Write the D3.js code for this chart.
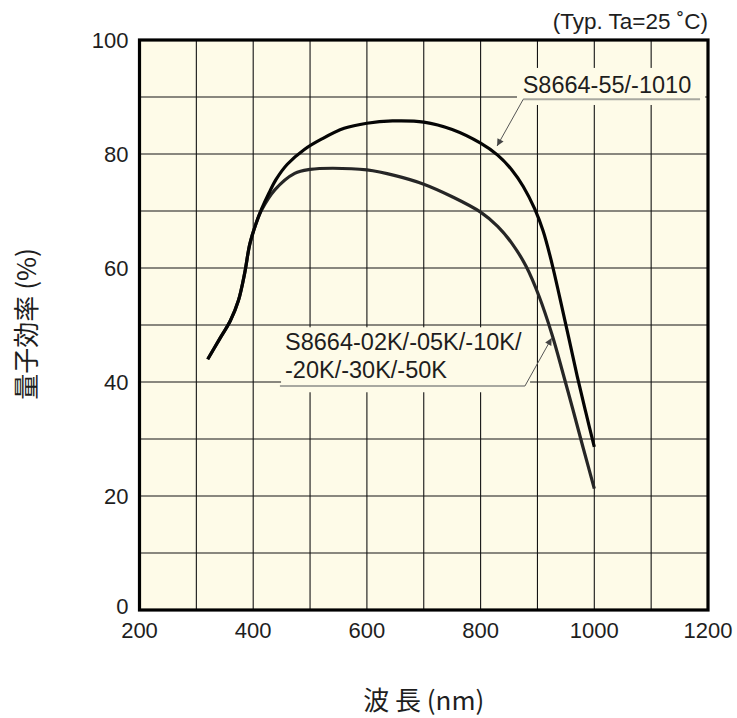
<!DOCTYPE html>
<html>
<head>
<meta charset="utf-8">
<script src="https://cdn.jsdelivr.net/npm/d3@7"></script>
<style>
  html, body { margin: 0; padding: 0; background: #ffffff; }
  svg { display: block; }
  text { font-family: "Liberation Sans", Arial, sans-serif; fill: #1e1e1e; }
</style>
</head>
<body>
<svg id="chart" width="737" height="718"></svg>
<script>
// ---- data ----
const xTicks = [200, 400, 600, 800, 1000, 1200];
const yTicks = [0, 20, 40, 60, 80, 100];
const xGrid = [300, 400, 500, 600, 700, 800, 900, 1000, 1100];
const yGrid = [10, 20, 30, 40, 50, 60, 70, 80, 90];

// S8664-55/-1010
const wlA = [320, 340, 360, 374, 385, 394, 405, 415, 428, 440, 460, 490, 520, 560, 600, 645, 700, 750, 800, 830, 855, 875, 895, 910, 925, 940, 955, 970, 985, 1000];
const qeA = [44.0, 47.4, 50.8, 54.3, 59.1, 64.2, 67.8, 70.4, 73.2, 75.5, 78.2, 80.8, 82.6, 84.5, 85.4, 85.8, 85.6, 84.3, 81.9, 79.8, 77.2, 74.3, 70.4, 66.5, 61.0, 54.5, 47.8, 41.0, 34.7, 28.6];

// S8664-02K/-05K/-10K/-20K/-30K/-50K
const wlB = [320, 340, 360, 374, 385, 394, 405, 415, 438, 473, 500, 540, 600, 650, 700, 750, 800, 830, 856, 880, 903, 926, 945, 962, 980, 1000];
const qeB = [44.0, 47.4, 50.8, 54.3, 59.1, 64.2, 67.8, 70.2, 73.7, 76.6, 77.3, 77.5, 77.2, 76.2, 74.7, 72.5, 69.8, 67.3, 64.2, 60.3, 55.0, 48.2, 41.5, 35.3, 28.6, 21.3];

const labelA = ["S8664-55/-1010"];
const labelB = ["S8664-02K/-05K/-10K/", "-20K/-30K/-50K"];
const condition = "(Typ. Ta=25 ˚C)";
const xTitle = "波 長 (nm)";
const yTitle = "量子効率 (%)";

// annotation anchors in data units
const annA = { textX: 874, textY: 90.7, box: [864, 1195, 95.1, 88.6], lineFrom: [875, 89.6], lineTo: [1186, 89.6], tip: [829, 81.4] };
const annB = { textX: 456, textY: [45.6, 40.7], box: [449, 887, 49.6, 38.2], lineFrom: [878, 39.3], lineTo: [447, 39.3], tip: [925, 47.7] };

// ---- layout ----
const svg = d3.select("#chart");
const pL = 139.5, pR = 708, pT = 40, pB = 610;

const x = d3.scaleLinear().domain([200, 1200]).range([pL, pR]);
const y = d3.scaleLinear().domain([0, 100]).range([pB, pT]);

// background
svg.append("rect")
  .attr("x", pL).attr("y", pT)
  .attr("width", pR - pL).attr("height", pB - pT)
  .attr("fill", "#fefbe8");

// grid
const grid = svg.append("g").attr("stroke", "#141414").attr("stroke-width", 1.1);
grid.selectAll("line.v").data(xGrid).join("line").attr("class", "v")
  .attr("x1", d => x(d)).attr("x2", d => x(d))
  .attr("y1", pT).attr("y2", pB);
grid.selectAll("line.h").data(yGrid).join("line").attr("class", "h")
  .attr("x1", pL).attr("x2", pR)
  .attr("y1", d => y(d)).attr("y2", d => y(d));

// label background boxes (hide grid under the labels)
[annA, annB].forEach(a => {
  svg.append("rect")
    .attr("x", x(a.box[0])).attr("y", y(a.box[2]))
    .attr("width", x(a.box[1]) - x(a.box[0]))
    .attr("height", y(a.box[3]) - y(a.box[2]))
    .attr("fill", "#fefbe8");
});

// curves
const line = d3.line()
  .x(d => x(d[0])).y(d => y(d[1]))
  .curve(d3.curveCatmullRom.alpha(0.5));

const dataB = wlB.map((w, i) => [w, qeB[i]]);
const dataA = wlA.map((w, i) => [w, qeA[i]]);

svg.append("path").datum(dataB)
  .attr("d", line).attr("fill", "none")
  .attr("stroke", "#262626").attr("stroke-width", 3.2)
  .attr("stroke-linejoin", "round").attr("stroke-linecap", "butt");
svg.append("path").datum(dataA)
  .attr("d", line).attr("fill", "none")
  .attr("stroke", "#050505").attr("stroke-width", 3.2)
  .attr("stroke-linejoin", "round").attr("stroke-linecap", "butt");

// frame
svg.append("rect")
  .attr("x", pL).attr("y", pT)
  .attr("width", pR - pL).attr("height", pB - pT)
  .attr("fill", "none").attr("stroke", "#000").attr("stroke-width", 3.2);

// ticks
svg.append("g").selectAll("text").data(yTicks).join("text")
  .attr("x", pL - 11).attr("y", d => y(d))
  .attr("dy", d => d === 0 ? "0.2em" : "0.36em")
  .attr("text-anchor", "end")
  .attr("font-size", 22)
  .text(d => d);
svg.append("g").selectAll("text").data(xTicks).join("text")
  .attr("x", d => x(d)).attr("y", pB + 28)
  .attr("text-anchor", "middle")
  .attr("font-size", 22)
  .text(d => d);

// condition
svg.append("text")
  .attr("x", pR).attr("y", 29)
  .attr("text-anchor", "end")
  .attr("font-size", 22.5)
  .text(condition);

// axis titles
svg.append("text")
  .attr("x", (pL + pR) / 2).attr("y", 710)
  .attr("text-anchor", "middle")
  .attr("font-size", 26)
  .style("font-family", "'Noto Sans CJK JP', 'Liberation Sans', sans-serif")
  .text(xTitle);
svg.append("text")
  .attr("transform", `translate(36, ${(pT + pB) / 2 - 1}) rotate(-90)`)
  .attr("text-anchor", "middle")
  .attr("font-size", 26)
  .style("font-family", "'Noto Sans CJK JP', 'Liberation Sans', sans-serif")
  .text(yTitle);

// arrow marker
svg.append("defs").append("marker")
  .attr("id", "arr").attr("viewBox", "0 0 10 10")
  .attr("refX", 10).attr("refY", 5)
  .attr("markerWidth", 9).attr("markerHeight", 7)
  .attr("markerUnits", "userSpaceOnUse")
  .attr("orient", "auto")
  .append("path").attr("d", "M0,0 L10,5 L0,10 Z").attr("fill", "#444");

// annotations
[annA, annB].forEach(a => {
  svg.append("line")
    .attr("x1", x(a.lineFrom[0])).attr("y1", y(a.lineFrom[1]))
    .attr("x2", x(a.lineTo[0])).attr("y2", y(a.lineTo[1]))
    .attr("stroke", "#a8a8a0").attr("stroke-width", 2);
  svg.append("line")
    .attr("x1", x(a.lineFrom[0])).attr("y1", y(a.lineFrom[1]))
    .attr("x2", x(a.tip[0])).attr("y2", y(a.tip[1]))
    .attr("stroke", "#555").attr("stroke-width", 1)
    .attr("marker-end", "url(#arr)");
});

svg.append("text")
  .attr("x", x(annA.textX)).attr("y", y(annA.textY))
  .attr("font-size", 23.5)
  .text(labelA[0]);
labelB.forEach((t, i) => {
  svg.append("text")
    .attr("x", x(annB.textX)).attr("y", y(annB.textY[i]))
    .attr("font-size", 23.5)
    .text(t);
});
</script>
</body>
</html>
